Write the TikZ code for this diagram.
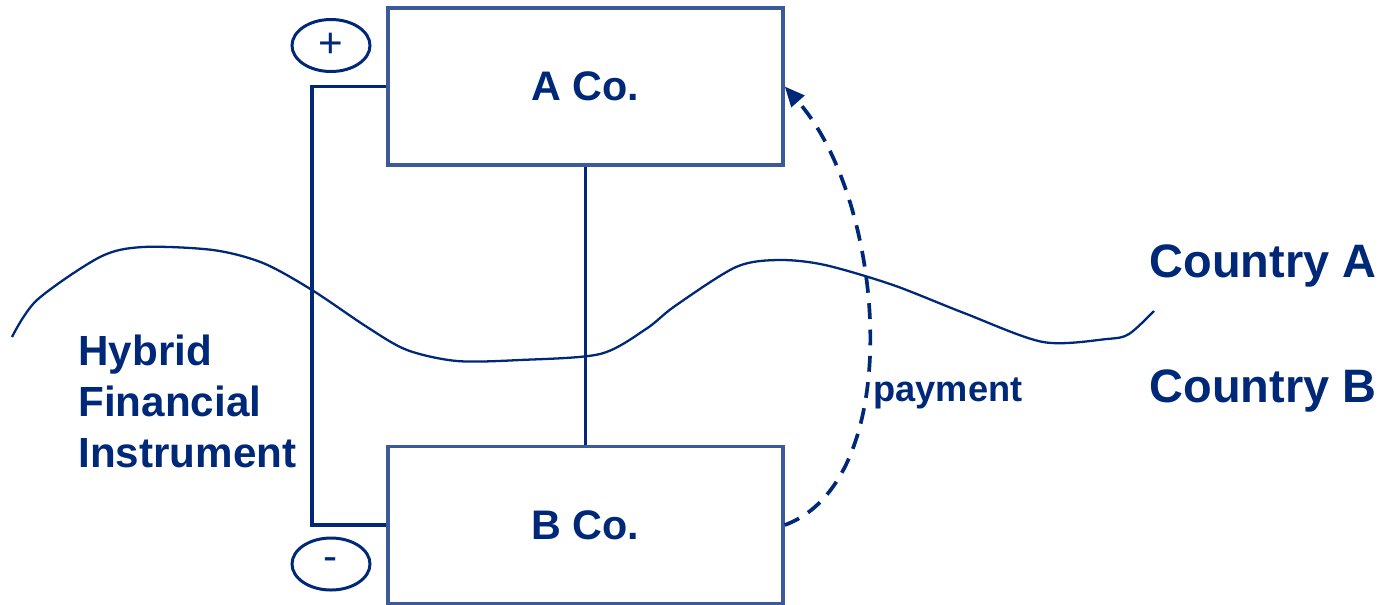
\documentclass[tikz,border=0pt]{standalone}
\usepackage{fontspec}
\setmainfont{Liberation Sans}
\usetikzlibrary{shapes.geometric, arrows.meta, positioning, calc}
\definecolor{navy}{RGB}{0,40,120}
\definecolor{boxblue}{RGB}{60,90,155}

\begin{document}
\begin{tikzpicture}[
    company/.style={rectangle, draw=boxblue, line width=2pt, minimum width=7.9cm, minimum height=3.14cm, font=\fontsize{23.5}{28}\selectfont\bfseries, text=navy},
    sign/.style={ellipse, draw=navy, line width=1.7pt, minimum width=1.56cm, minimum height=1.04cm, inner sep=0pt, font=\fontsize{24}{28}\selectfont, text=navy},
    country/.style={font=\fontsize{26.7}{32}\selectfont\bfseries, text=navy},
    link/.style={draw=navy, line width=2pt},
    wave/.style={draw=navy, line width=1.3pt},
    arrow/.style={navy, line width=2.1pt, dash pattern=on 9pt off 6pt, -{Triangle[length=4mm, width=3.4mm]}}
]
\useasboundingbox (0,0) rectangle (27.8,-12.08);

% Border between countries
\draw[wave] plot[smooth, tension=0.5] coordinates {(0.24,-6.74) (0.74,-6.0) (2.0,-5.14) (2.86,-4.94) (4.26,-5.0) (5.26,-5.26) (6.24,-5.8) (7.34,-6.54) (8.14,-7.0) (9.14,-7.22) (10.4,-7.2) (12.0,-7.08) (12.92,-6.58) (13.5,-6.12) (14.72,-5.34) (15.58,-5.2) (16.5,-5.3) (17.86,-5.7) (19.28,-6.26) (20.86,-6.84) (22.14,-6.78) (22.58,-6.68) (23.08,-6.22)};

% Companies
\node[company, fill=white] (aco) at (11.71, -1.73) {A Co.};
\node[company, fill=white] (bco) at (11.71, -10.5) {B Co.};

% Signs
\node[sign] (plus) at (6.62, -0.91) {+};
\node[sign] (minus) at (6.62, -11.28) {-};

% Labels
\node[country] (ca) at (25.26, -5.32) {Country A};
\node[country] (cb) at (25.26, -7.82) {Country B};
\node[font=\fontsize{20.6}{24}\selectfont\bfseries, text=navy] (pay) at (18.96, -7.86) {payment};
\node[font=\fontsize{24}{29}\selectfont\bfseries, text=navy, align=left, anchor=west, inner sep=0pt] (hfi) at (1.56, -8.02) {Hybrid\\Financial\\Instrument};

% Connections
\draw[link] (aco) -- (bco);
\draw[link] (aco.west) -- ++(-1.48,0) |- (bco.west);
\draw[arrow] (bco.east) .. controls +(2.44,0.9) and +(2.04,-2.3) .. (aco.east);
\end{tikzpicture}
\end{document}
